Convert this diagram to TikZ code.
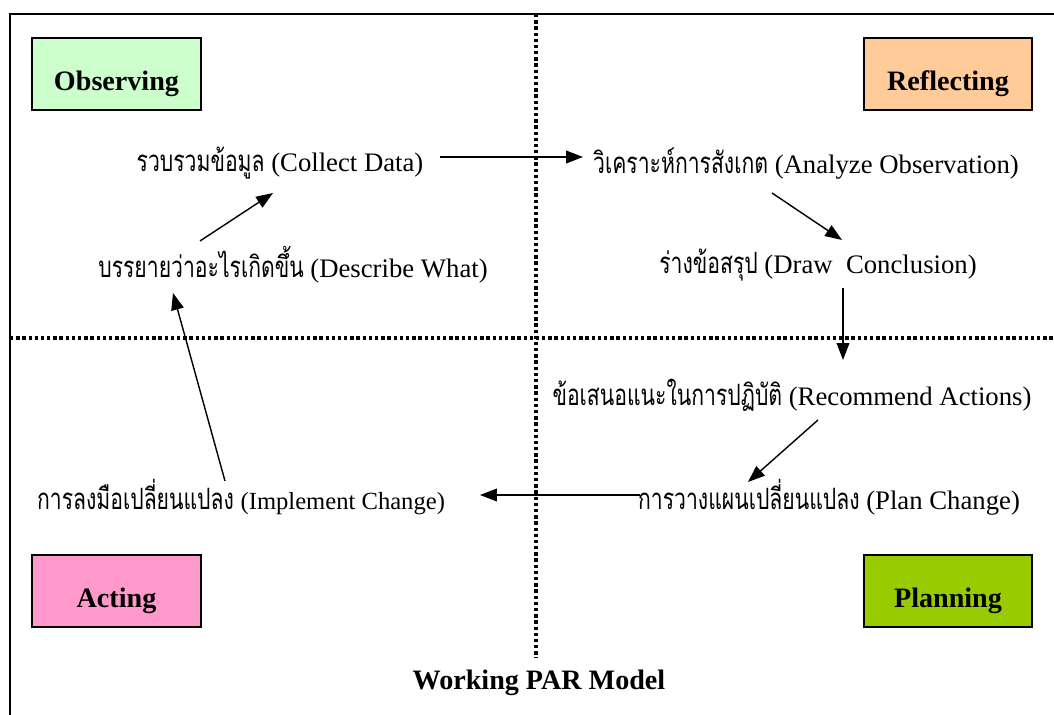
\documentclass[tikz,border=0pt]{standalone}
\usepackage{fontspec}
\setmainfont{Liberation Serif}
\newfontfamily\thaifont[Script=Thai, Scale=1.1, FakeStretch=0.72]{Loma}
\usetikzlibrary{calc}
\usetikzlibrary{arrows.meta}
\definecolor{obsgreen}{HTML}{CCFFCC}
\definecolor{reflorange}{HTML}{FFCC99}
\definecolor{actpink}{HTML}{FF99CC}
\definecolor{plangreen}{HTML}{99CC00}
\newcommand{\thaitxt}[1]{{\thaifont #1}}
\tikzset{
  phase/.style={draw=black, line width=1.4pt, minimum width=4.2cm, minimum height=1.8cm,
    text height=29pt, text depth=5pt, font=\fontsize{20}{24}\selectfont\bfseries},
  stage/.style={font=\fontsize{19}{23}\selectfont, inner sep=2pt},
  flow/.style={line width=1pt, -{Triangle[length=12pt,width=9pt]}},
  divider/.style={line width=2.3pt, dash pattern=on 2.4pt off 2pt}
}

\begin{document}
\begin{tikzpicture} [x=0.025cm, y=-0.025cm]
\useasboundingbox (0,0) rectangle (1054,715);
% frame and quadrants
\draw[line width=1.8pt] (10,715) -- (10,14) -- (1054,14);
\draw[divider] (536,14) -- (536,658);
\draw[divider] (10,338) -- (1054,338);

% phases
\node[phase, fill=obsgreen] (obs) at (116.5,74) {Observing};
\node[phase, fill=reflorange] (refl) at (948,74) {Reflecting};
\node[phase, fill=actpink] (act) at (116.5,591) {Acting};
\node[phase, fill=plangreen] (plan) at (948,591) {Planning};

% steps of the cycle
\node[stage] (collect) at (280,163) {\thaitxt{รวบรวมข้อมูล} (Collect Data)};
\node[stage] (describe) at (293,265) {\thaitxt{บรรยายว่าอะไรเกิดขึ้น} (Describe What)};
\node[stage] (analyze) at (806,163) {\thaitxt{วิเคราะห์การสังเกต} (Analyze Observation)};
\node[stage] (conclude) at (818,265) {\thaitxt{ร่างข้อสรุป} (Draw~~Conclusion)};
\node[stage] (recommend) at (792,395) {\thaitxt{ข้อเสนอแนะในการปฏิบัติ} (Recommend Actions)};
\node[stage] (planchg) at (829,497) {\thaitxt{การวางแผนเปลี่ยนแปลง} (Plan Change)};
\node[stage] (implement) at (241,497) {\thaitxt{การลงมือเปลี่ยนแปลง} {\fontsize{17.5}{21}\selectfont(Implement Change)}};

\node[font=\fontsize{20}{24}\selectfont\bfseries] (title) at (539,683) {Working PAR Model};

% arrows
\draw[flow] ($(collect)+(160,-6)$) -- ($(analyze)+(-223,-6)$);
\draw[flow] ($(analyze)+(-34,30)$) -- ($(conclude)+(24,-25)$);
\draw[flow] ($(conclude)+(25,23)$) -- ($(recommend)+(51,-35)$);
\draw[flow] ($(recommend)+(26,25)$) -- ($(planchg)+(-81,-15)$);
\draw[flow] ($(planchg)+(-189,-2)$) -- ($(implement)+(239,-2)$);
\draw[flow] ($(implement)+(-16,-16)$) -- ($(describe)+(-120,28)$);
\draw[flow] ($(describe)+(-93,-24)$) -- ($(collect)+(-7,30)$);
\end{tikzpicture}
\end{document}
